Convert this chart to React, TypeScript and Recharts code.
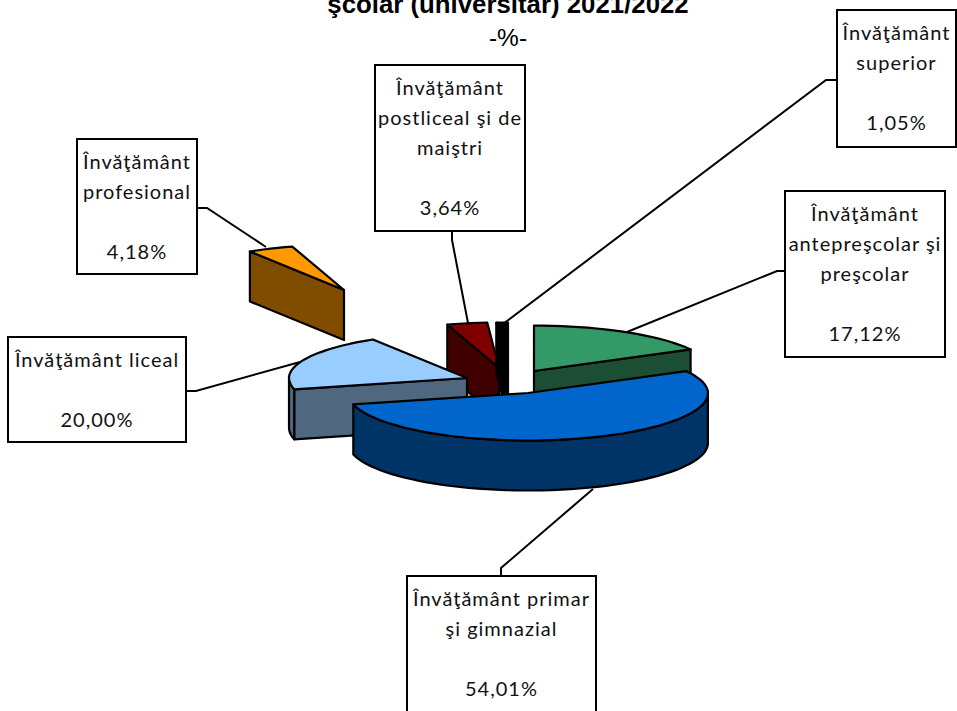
import React from "react";
import { PieChart, Pie } from "recharts";

const sliceNames = [
  "antepreşcolar",
  "primar",
  "liceal",
  "profesional",
  "postliceal",
  "superior",
];
const sliceValues = [17.12, 54.01, 20.0, 4.18, 3.64, 1.05];

// textul de pe etichete, fara procent
const labelLines: Record<string, string[]> = {
  antepreşcolar: ["Învăţământ", "antepreşcolar şi", "preşcolar"],
  primar: ["Învăţământ primar", "şi gimnazial"],
  liceal: ["Învăţământ liceal"],
  profesional: ["Învăţământ", "profesional"],
  postliceal: ["Învăţământ", "postliceal şi de", "maiştri"],
  superior: ["Învăţământ", "superior"],
};

// ordinea de desenare: din spate spre fata
const drawOrder = ["profesional", "postliceal", "superior", "antepreşcolar", "liceal", "primar"];

const CX = 515;
const CY = 378;
const RADIUS = 178;
const SQUASH_BACK = 0.255;
const SQUASH_FRONT = 0.264;
const DEPTH = 50;

const sliceStyle: Record<string, any> = {
  antepreşcolar: { top: "#339966", side: "#1c4e33", dx: 19, dy: -7, grow: 1 },
  primar: { top: "#0066cc", side: "#003366", dx: 13, dy: 15, grow: 1.011 },
  liceal: { top: "#99ccff", side: "#4f6880", dx: -48, dy: 0, grow: 1 },
  profesional: { top: "#ff9900", side: "#804d00", dx: -171, dy: -88, grow: 1 },
  postliceal: { top: "#800000", side: "#400000", dx: -16, dy: -10, grow: 1 },
  superior: { top: "#000000", side: "#000000", dx: -7, dy: -10, grow: 1 },
};

const boxStyle: Record<string, any> = {
  antepreşcolar: { x: 785, y: 191, w: 160, h: 166, leader: [[785, 271], [777, 271], [627, 332]] },
  primar: { x: 407, y: 576, w: 189, h: 150, leader: [[501, 576], [501, 568], [593, 489]] },
  liceal: { x: 8, y: 337, w: 178, h: 105, leader: [[186, 391], [196, 391], [300, 362]] },
  profesional: { x: 77, y: 139, w: 120, h: 135, leader: [[197, 208], [207, 208], [266, 247]] },
  postliceal: { x: 375, y: 65, w: 150, h: 166, leader: [[452, 231], [452, 240], [468, 323]] },
  superior: { x: 837, y: 10, w: 119, h: 137, leader: [[837, 80], [826, 80], [503, 324]] },
};

const chartData = sliceNames.map((name, i) => ({ name, value: sliceValues[i] }));

// unghiul recharts -> punct pe elipsa
function project(cx: number, cy: number, r: number, deg: number) {
  const a = (deg * Math.PI) / 180;
  const s = Math.sin(a);
  return [cx + r * Math.cos(a), cy - r * (s > 0 ? SQUASH_BACK : SQUASH_FRONT) * s];
}

function arcPoints(cx: number, cy: number, r: number, from: number, to: number) {
  const n = Math.max(2, Math.ceil(Math.abs(to - from) / 3));
  const pts: number[][] = [];
  for (let i = 0; i <= n; i++) pts.push(project(cx, cy, r, from + ((to - from) * i) / n));
  return pts;
}

const toPath = (pts: number[][]) => "M" + pts.map((p) => p[0].toFixed(1) + " " + p[1].toFixed(1)).join("L") + "Z";

function Slice3D(props: any) {
  const st = sliceStyle[props.name];
  const cx = props.cx + st.dx;
  const cy = props.cy + st.dy;
  const r = props.outerRadius * st.grow;
  const from = props.startAngle;
  const to = props.endAngle;
  const apex = [cx, cy];
  const down = (p: number[]) => [p[0], p[1] + DEPTH];
  const rim = arcPoints(cx, cy, r, from, to);
  const parts: React.ReactNode[] = [];

  const wall = (deg: number, d: string) => {
    const p = project(cx, cy, r, deg);
    parts.push(<path key={d} d={toPath([apex, p, down(p), down(apex)])} fill={st.side} stroke="#000" strokeWidth={2.2} strokeLinejoin="round" />);
  };
  // pereti vizibili, normala spre privitor
  if (Math.sin(((from + 90) * Math.PI) / 180) < 0) wall(from, "start");
  if (Math.sin(((to - 90) * Math.PI) / 180) < 0) wall(to, "end");

  // partea de jos a marginii, doar unghiurile din fata
  let run: number[][] = [];
  const flush = (k: number) => {
    if (run.length > 1) {
      const lower = run.map(down).reverse();
      parts.push(<path key={"rim" + k} d={toPath([...run, ...lower])} fill={st.side} stroke="#000" strokeWidth={2.2} strokeLinejoin="round" />);
    }
    run = [];
  };
  rim.forEach((p, i) => {
    const deg = from + ((to - from) * i) / (rim.length - 1);
    if (Math.sin((deg * Math.PI) / 180) <= 0.02) run.push(p);
    else flush(i);
  });
  flush(rim.length);

  parts.push(<path key="top" d={toPath([apex, ...rim])} fill={st.top} stroke="#000" strokeWidth={2.2} strokeLinejoin="round" />);
  return <g>{parts}</g>;
}

function SliceLabel(props: any) {
  const box = boxStyle[props.name];
  const lines = [...labelLines[props.name], "", props.value.toFixed(2).replace(".", ",") + "%"];
  const midX = box.x + box.w / 2;
  return (
    <g>
      <polyline points={box.leader.join(" ")} fill="none" stroke="#000" strokeWidth={2} />
      <rect x={box.x} y={box.y} width={box.w} height={box.h} fill="#fff" stroke="#000" strokeWidth={2} />
      {lines.map((t, i) => (
        <text key={i} x={midX} y={box.y + 30 + i * 30} textAnchor="middle" fontFamily="Lato" fontSize={20} letterSpacing={1} fill="#111">
          {t}
        </text>
      ))}
    </g>
  );
}

export default function App() {
  return (
    <div style={{ position: "absolute", left: 0, top: 0, width: 957, height: 711, overflow: "hidden", background: "#fff" }}>
      <PieChart width={957} height={711} margin={{ top: 0, right: 0, bottom: 0, left: 0 }}>
        <text x={508} y={13} textAnchor="middle" fontFamily="Liberation Sans" fontWeight="bold" fontSize={25.8} fill="#000">
          şcolar (universitar) 2021/2022
        </text>
        <text x={508} y={46} textAnchor="middle" fontFamily="Liberation Sans" fontSize={24.5} fill="#000">
          -%-
        </text>
        {drawOrder.map((name) => (
          <Pie
            key={name}
            data={chartData}
            dataKey="value"
            nameKey="name"
            cx={CX}
            cy={CY}
            outerRadius={RADIUS}
            startAngle={90}
            endAngle={-270}
            paddingAngle={0}
            isAnimationActive={false}
            labelLine={false}
            label={(p: any) => (p.name === name ? <SliceLabel {...p} /> : <g />)}
            shape={(p: any) => (p.name === name ? <Slice3D {...p} /> : <g />)}
          />
        ))}
      </PieChart>
    </div>
  );
}
